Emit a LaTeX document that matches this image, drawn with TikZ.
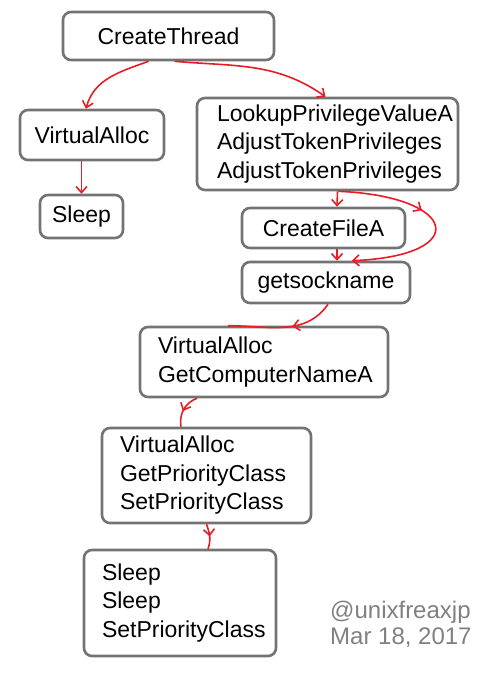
\documentclass[tikz,border=0pt]{standalone}
\usepackage{fontspec}
\setmainfont{Liberation Sans}
\usetikzlibrary{arrows.meta,decorations.markings}
\definecolor{callred}{RGB}{232,28,36}
\begin{document}
\begin{tikzpicture}[
    x=1pt, y=1pt,
    fn/.style={draw=black!55, line width=2.6pt, rounded corners=8pt, inner sep=0pt, font=\fontsize{23}{28.5}\selectfont},
    fnlist/.style={fn, align=left},
    link/.style={callred, line width=1.6pt},
    call/.style={link, -{Straight Barb[length=6pt,width=11pt]}},
    midhead/.style={postaction={decorate, decoration={markings, mark=at position #1 with {\arrow{Straight Barb[length=6pt,width=11pt]}}}}},
    wm/.style={text=black!50, font=\fontsize{24}{28}\selectfont, inner sep=0pt}
    ]

    \useasboundingbox (0,0) rectangle (489,-680);

    % Thread entry
    \node[fn, minimum width=211pt, minimum height=48pt] (ct) at (168.5,-36) {CreateThread};

    % Left branch
    \node[fn, minimum width=144pt, minimum height=50pt] (va1) at (92,-135) {VirtualAlloc};
    \node[fn, minimum width=83pt, minimum height=43pt] (sl1) at (81.5,-216.5) {Sleep};

    % Right branch
    \node[fnlist, text width=221pt, minimum width=261pt, minimum height=92pt] (lk) at (327.5,-144) {LookupPrivilegeValueA\\AdjustTokenPrivileges\\AdjustTokenPrivileges};
    \node[fn, minimum width=163pt, minimum height=40pt] (cf) at (323.5,-228) {CreateFileA};
    \node[fn, minimum width=168pt, minimum height=41pt] (gs) at (326,-282.5) {getsockname};
    \node[fnlist, text width=212pt, minimum width=248pt, minimum height=70pt] (gc) at (264,-362) {VirtualAlloc\\GetComputerNameA};
    \node[fnlist, text width=173pt, minimum width=209pt, minimum height=95pt] (gp) at (206.5,-475.5) {VirtualAlloc\\GetPriorityClass\\SetPriorityClass};
    \node[fnlist, text width=156pt, minimum width=192pt, minimum height=106pt] (sp) at (180,-603) {Sleep\\Sleep\\SetPriorityClass};

    % Watermark
    \node[wm, anchor=base west] (wm1) at (330,-618) {@unixfreaxjp};
    \node[wm, anchor=base west] (wm2) at (330,-644) {Mar 18, 2017};

    % Calls out of CreateThread
    \draw[call] ([xshift=-20pt]ct.south) to[out=200, in=75] ([xshift=-6pt]va1.north);
    \draw[call] ([xshift=6pt]ct.south) to[out=-5, in=145] ([xshift=-2pt]lk.north);
    \draw[call] (sl1.north |- va1.south) -- (sl1.north);

    % Privilege block
    \draw[call] ([xshift=10pt]lk.south) -- ([xshift=13.5pt]cf.north);
    \draw[call, midhead=0.42] ([xshift=11pt]lk.south) .. controls +(120,-5) and +(120,5) .. ([xshift=26pt]gs.north);
    \draw[call] ([xshift=13.5pt]cf.south) -- ([xshift=11pt]gs.north);

    % Down the chain
    \draw[link, midhead=0.4] ([xshift=2pt]gs.south) to[out=235, in=0] ([xshift=-36pt]gc.north);
    \draw[link, midhead=0.55] ([xshift=-67pt]gc.south) to[out=200, in=100] ([xshift=-25.5pt]gp.north);
    \draw[link, midhead=0.5] (gp.south) to[out=-70, in=70] ([xshift=28pt]sp.north);

\end{tikzpicture}
\end{document}
